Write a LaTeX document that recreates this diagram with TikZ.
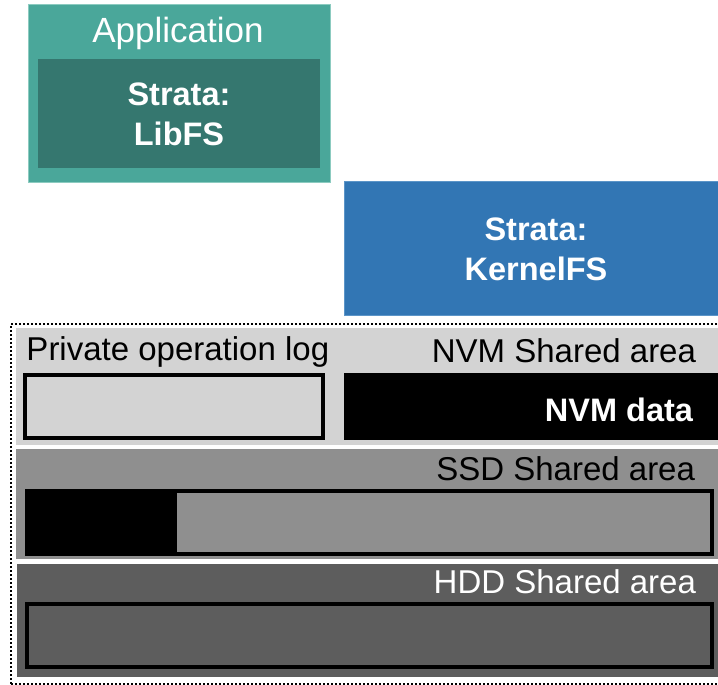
\documentclass[tikz,border=0pt]{standalone}
\usepackage{fontspec}
\setmainfont{Liberation Sans}
\definecolor{appteal}{HTML}{4AA79A}
\definecolor{appedge}{HTML}{8CCBC0}
\definecolor{libteal}{HTML}{35776F}
\definecolor{kernblue}{HTML}{3276B4}
\definecolor{kernedge}{HTML}{5C95C8}
\definecolor{nvmgray}{HTML}{D3D3D3}
\definecolor{ssdgray}{HTML}{8F8F8F}
\definecolor{hddgray}{HTML}{5D5D5D}
\begin{document}
\begin{tikzpicture}[x=1pt,y=-1pt,
  block/.style={rectangle, inner sep=0pt, outer sep=0pt, anchor=north west},
  txt/.style={inner sep=0pt, outer sep=0pt, font=\fontsize{33}{40}\selectfont},
  boldtxt/.style={txt, font=\fontsize{32.5}{40}\selectfont\bfseries, text=white, align=center},
  extent/.style={block, line width=4pt, draw=black},
]
\useasboundingbox (0,0) rectangle (718,685);

% user-space side
\node[block, fill=appteal, draw=appedge, line width=1pt,
      minimum width=302pt, minimum height=177pt] (app) at (28,5) {};
\node[txt, text=white, anchor=base, font=\fontsize{35}{40}\selectfont] (applabel) at (178,43) {Application};
\node[block, fill=libteal, minimum width=282pt, minimum height=109pt] (libfs) at (38,59) {};
\node[boldtxt] (libfslabel) at (179,114) {Strata:\\LibFS};

% kernel side
\node[block, fill=kernblue, draw=kernedge, line width=1pt,
      minimum width=386pt, minimum height=134pt] (kernel) at (344,181) {};
\node[boldtxt] (kernellabel) at (536,249) {Strata:\\KernelFS};

% NVM tier
\node[block, fill=nvmgray, minimum width=714pt, minimum height=117pt] (nvm) at (16,328) {};
\node[txt, anchor=base west] (privlabel) at (26.5,360) {Private operation log};
\node[txt, anchor=base east] (nvmlabel) at (696,362) {NVM Shared area};
\node[block, fill=nvmgray, draw=black, line width=3.5pt,
      minimum width=298pt, minimum height=63pt] (privlog) at (25,375) {};
\node[block, fill=black, minimum width=386pt, minimum height=67pt] (nvmdata) at (344,373) {};
\node[boldtxt, anchor=base east] (nvmdatalabel) at (693,421) {NVM data};

% SSD tier
\node[block, fill=ssdgray, minimum width=714pt, minimum height=110pt] (ssd) at (16,449) {};
\node[txt, anchor=base east] (ssdlabel) at (695,480) {SSD Shared area};
\node[extent, fill=ssdgray, minimum width=685pt, minimum height=63pt] (ssdbox) at (27,491) {};
\node[block, fill=black, minimum width=152pt, minimum height=67pt] (ssdused) at (25,489) {};

% HDD tier
\node[block, fill=hddgray, minimum width=714pt, minimum height=113pt] (hdd) at (16.5,564) {};
\node[txt, anchor=base east, text=white] (hddlabel) at (696,593) {HDD Shared area};
\node[extent, fill=hddgray, minimum width=685pt, minimum height=63pt] (hddbox) at (27,604) {};

% storage boundary
\node[block, draw=black, line width=2pt, dash pattern=on 2pt off 2pt,
      minimum width=719pt, minimum height=360pt] (storage) at (11,324) {};
\end{tikzpicture}
\end{document}
